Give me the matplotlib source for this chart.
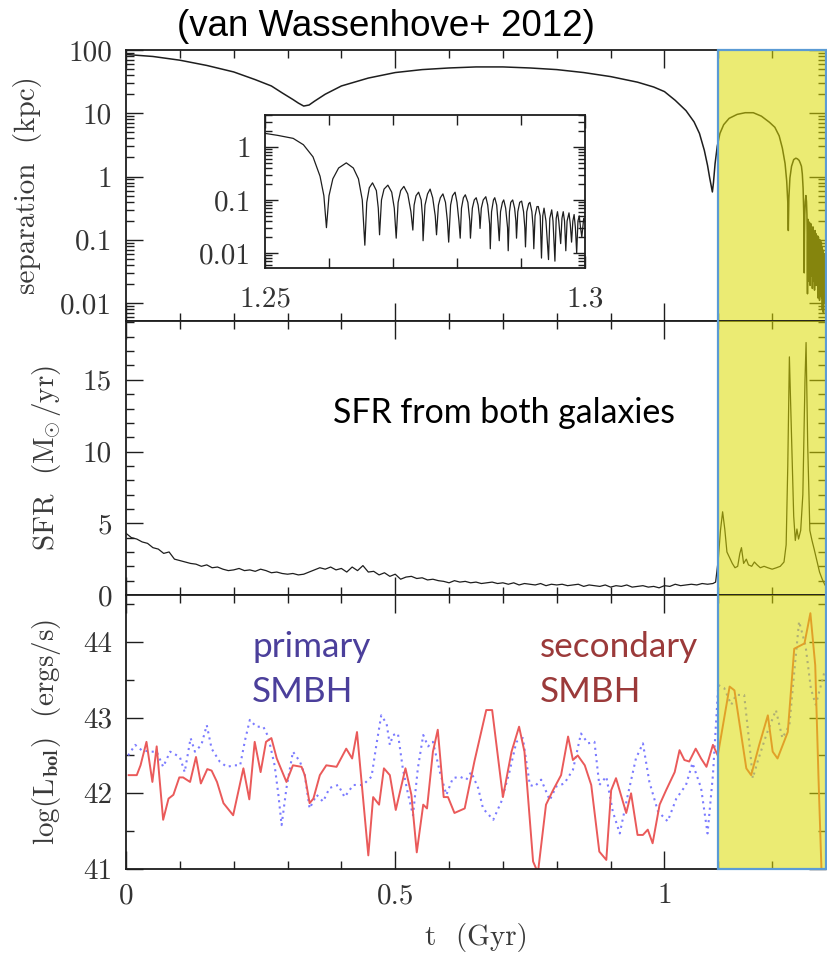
import numpy as np
import matplotlib
matplotlib.use("Agg")
import matplotlib.pyplot as plt
from matplotlib.patches import Rectangle
from matplotlib.transforms import blended_transform_factory
from matplotlib.ticker import LogLocator, MultipleLocator, NullFormatter, FixedLocator

plt.rcParams['mathtext.fontset'] = 'cm'
plt.rcParams['axes.unicode_minus'] = False

# separation of the two nuclei (kpc) vs time (Gyr)
sep_t = [0.00, 0.05, 0.10, 0.15, 0.20, 0.24, 0.27, 0.29, 0.31, 0.32,
         0.33, 0.34, 0.35, 0.37, 0.40, 0.45, 0.50, 0.55, 0.60, 0.65,
         0.70, 0.75, 0.80, 0.85, 0.90, 0.95, 0.98, 1.00, 1.02, 1.04,
         1.055, 1.065, 1.074, 1.080, 1.084, 1.087, 1.089, 1.091, 1.094, 1.098,
         1.103, 1.110, 1.120, 1.135, 1.150, 1.165, 1.180, 1.195, 1.205, 1.213,
         1.219, 1.224, 1.227, 1.229, 1.230, 1.231, 1.233, 1.236, 1.240, 1.244,
         1.247]
sep_kpc = [85, 79, 69, 57, 45, 34, 27, 21, 16.5, 14.5,
           13, 13.5, 15.5, 20, 27, 36, 44, 49, 52, 54,
           54, 52, 49, 44, 38, 31, 26, 22, 16, 11,
           7.3, 4.8, 2.6, 1.5, 0.95, 0.7, 0.57, 0.8, 1.6, 3.0,
           4.8, 6.6, 8.3, 9.6, 10.2, 10.2, 9.0, 7.2, 6.0, 4.4,
           2.8, 1.6, 0.85, 0.4, 0.14, 0.45, 0.95, 1.45, 1.85, 1.95,
           1.9]

# final inspiral, 1.25 - 1.3 Gyr
zoom_t = [1.2500, 1.2520, 1.2544, 1.2560, 1.2575, 1.2586, 1.2592, 1.2596,
          1.2600, 1.2606, 1.2615, 1.2627, 1.2638, 1.2646, 1.2652, 1.2656,
          1.2659, 1.2663, 1.2668, 1.2674, 1.2677, 1.2679,
          1.2682, 1.2686, 1.2692, 1.2698, 1.2702, 1.2705,
          1.2708, 1.2712, 1.2717, 1.2723, 1.2728, 1.2731,
          1.2733, 1.2736, 1.2740, 1.2744, 1.2746, 1.2747,
          1.2750, 1.2754, 1.2758, 1.2762, 1.2766, 1.2768,
          1.2771, 1.2774, 1.2778, 1.2782, 1.2785, 1.2787,
          1.2790, 1.2793, 1.2797, 1.2800, 1.2803, 1.2805,
          1.2807, 1.2810, 1.2813, 1.2817, 1.2820, 1.2821,
          1.2824, 1.2827, 1.2830, 1.2833, 1.2835, 1.2836,
          1.2838, 1.2841, 1.2845, 1.2848, 1.2851, 1.2852,
          1.2854, 1.2857, 1.2859, 1.2862, 1.2864, 1.2866,
          1.2868, 1.2871, 1.2873, 1.2876, 1.2879, 1.2880,
          1.2882, 1.2884, 1.2887, 1.2890, 1.2892, 1.2893,
          1.2895, 1.2898, 1.2901, 1.2904, 1.2906, 1.2907,
          1.2909, 1.2912, 1.2914, 1.2917, 1.2919, 1.2920,
          1.2922, 1.2925, 1.2927, 1.2930, 1.2932,
          1.2934, 1.2936, 1.2939, 1.2943,
          1.2945, 1.2948, 1.2950, 1.2953,
          1.2955, 1.2957, 1.2959, 1.2962,
          1.2964, 1.2966, 1.2968, 1.2970,
          1.2972, 1.2975, 1.2977, 1.2979,
          1.2981, 1.2983, 1.2985, 1.2987,
          1.2989, 1.2991, 1.2993, 1.2995,
          1.2998, 1.3000]
zoom_kpc = [1.8, 1.65, 1.45, 1.1, 0.65, 0.28, 0.12, 0.03,
            0.12, 0.25, 0.40, 0.50, 0.40, 0.25, 0.10, 0.014,
            0.09, 0.17, 0.21, 0.15, 0.07, 0.022,
            0.10, 0.16, 0.19, 0.14, 0.07, 0.019,
            0.09, 0.15, 0.18, 0.13, 0.06, 0.027,
            0.08, 0.12, 0.14, 0.10, 0.05, 0.017,
            0.08, 0.13, 0.16, 0.11, 0.05, 0.022,
            0.08, 0.11, 0.13, 0.09, 0.04, 0.016,
            0.08, 0.12, 0.14, 0.09, 0.04, 0.019,
            0.07, 0.11, 0.125, 0.09, 0.04, 0.019,
            0.07, 0.10, 0.11, 0.08, 0.05, 0.029,
            0.07, 0.10, 0.115, 0.08, 0.035, 0.012,
            0.06, 0.10, 0.11, 0.08, 0.04, 0.017,
            0.06, 0.09, 0.10, 0.07, 0.03, 0.011,
            0.06, 0.09, 0.10, 0.07, 0.04, 0.019,
            0.06, 0.09, 0.095, 0.06, 0.03, 0.013,
            0.06, 0.085, 0.09, 0.06, 0.03, 0.012,
            0.05, 0.075, 0.075, 0.05, 0.008,
            0.05, 0.07, 0.04, 0.0075,
            0.045, 0.065, 0.04, 0.007,
            0.045, 0.06, 0.04, 0.015,
            0.045, 0.06, 0.04, 0.011,
            0.04, 0.057, 0.035, 0.016,
            0.04, 0.053, 0.03, 0.010,
            0.04, 0.05, 0.03, 0.02,
            0.045, 0.04]

# star formation rate of both galaxies (Msun/yr)
sfr_t = list(np.round(np.arange(0.0, 1.095, 0.01), 2)) + [
    1.095, 1.100, 1.104, 1.108, 1.112, 1.116, 1.121, 1.126, 1.131, 1.136,
    1.140, 1.143, 1.147, 1.152, 1.156, 1.162, 1.167, 1.172, 1.178, 1.185,
    1.192, 1.200, 1.208, 1.215, 1.222, 1.226, 1.229, 1.232, 1.236, 1.240,
    1.243, 1.246, 1.249, 1.253, 1.257, 1.261, 1.263, 1.266, 1.270, 1.274,
    1.278, 1.283, 1.288, 1.293, 1.298, 1.300]
sfr = [4.3, 4.0, 3.9, 3.7, 3.6, 3.3, 3.2, 2.9, 3.0, 2.5,
       2.4, 2.3, 2.2, 2.15, 2.0, 2.1, 1.9, 1.95, 1.8, 1.7,
       1.75, 1.85, 1.7, 1.75, 1.65, 1.8, 1.7, 1.55, 1.6, 1.5,
       1.45, 1.5, 1.4, 1.45, 1.6, 1.75, 1.9, 1.8, 1.95, 1.75,
       1.85, 1.6, 1.95, 1.7, 2.05, 1.6, 1.65, 1.4, 1.55, 1.3,
       1.45, 1.1, 1.25, 1.3, 1.15, 1.2, 1.05, 1.1, 1.0, 0.95,
       0.85, 1.0, 0.9, 0.95, 0.85, 0.9, 0.8, 0.85, 0.9, 0.8,
       0.85, 0.75, 0.85, 0.7, 0.8, 0.75, 0.7, 0.8, 0.65, 0.75,
       0.7, 0.75, 0.65, 0.7, 0.75, 0.6, 0.7, 0.65, 0.6, 0.7,
       0.55, 0.65, 0.6, 0.7, 0.55, 0.6, 0.65, 0.55, 0.6, 0.5,
       0.65, 0.6, 0.75, 0.65, 0.7, 0.75, 0.7, 0.8, 0.75, 0.8,
       0.9, 2.5, 4.5, 5.8, 4.6, 3.0, 2.6, 2.2, 1.9, 2.0,
       2.9, 3.3, 2.2, 2.5, 2.1, 2.0, 2.3, 2.1, 1.9, 2.0,
       1.9, 1.8, 1.9, 2.0, 2.3, 3.5, 9.0, 16.6, 11.0, 5.5,
       3.8, 4.6, 3.9, 4.5, 7.0, 15.0, 17.6, 10.5, 4.5, 3.8,
       3.2, 2.4, 1.6, 1.1, 0.7, 0.6]

# bolometric luminosity of the secondary black hole, log(erg/s)
lsec_t = [0.005, 0.020, 0.027, 0.038, 0.049, 0.057, 0.069, 0.079, 0.088, 0.099,
          0.106, 0.119, 0.130, 0.139, 0.151, 0.159, 0.169, 0.181, 0.199, 0.218,
          0.229, 0.239, 0.250, 0.260, 0.270, 0.280, 0.298, 0.310, 0.326, 0.332,
          0.341, 0.348, 0.360, 0.372, 0.391, 0.409, 0.420, 0.429, 0.450, 0.459,
          0.470, 0.479, 0.490, 0.501, 0.519, 0.530, 0.540, 0.552, 0.559, 0.570,
          0.579, 0.590, 0.598, 0.610, 0.629, 0.647, 0.669, 0.680, 0.700, 0.716,
          0.730, 0.740, 0.756, 0.765, 0.780, 0.793, 0.808, 0.821, 0.830, 0.839,
          0.852, 0.864, 0.879, 0.892, 0.901, 0.910, 0.929, 0.938, 0.950, 0.960,
          0.969, 0.978, 0.991, 1.003, 1.019, 1.028, 1.037, 1.046, 1.058, 1.068,
          1.078, 1.090, 1.099, 1.121, 1.130, 1.152, 1.161, 1.176, 1.192, 1.201,
          1.210, 1.229, 1.241, 1.260, 1.271, 1.280, 1.286, 1.292]
lsec = [42.24, 42.24, 42.37, 42.68, 42.15, 42.62, 41.65, 41.93, 41.98, 42.21,
        42.21, 42.15, 42.48, 42.13, 42.32, 42.30, 42.15, 41.87, 41.71, 42.33,
        41.92, 42.68, 42.28, 42.68, 42.73, 42.46, 42.15, 42.37, 42.35, 42.24,
        41.87, 41.93, 42.24, 42.37, 42.35, 42.59, 42.46, 42.81, 41.18, 41.95,
        41.85, 42.33, 42.24, 41.78, 42.33, 41.98, 41.22, 41.85, 41.80, 42.55,
        42.84, 41.95, 41.95, 41.74, 41.80, 42.42, 43.10, 43.10, 41.95, 42.55,
        42.88, 42.55, 41.10, 40.95, 41.85, 42.04, 42.24, 42.75, 42.44, 42.50,
        42.37, 42.11, 41.23, 41.12, 42.04, 42.20, 41.74, 42.00, 41.45, 41.45,
        41.52, 41.34, 41.85, 42.04, 42.28, 42.57, 42.44, 42.42, 42.59, 42.46,
        42.35, 42.64, 42.50, 43.41, 43.36, 42.33, 42.24, 42.64, 43.03, 42.55,
        42.46, 42.81, 43.91, 43.98, 44.38, 43.69, 42.22, 40.90]

# bolometric luminosity of the primary black hole, log(erg/s)
lpri_t = [0.004, 0.017, 0.029, 0.045, 0.057, 0.069, 0.082, 0.100, 0.109, 0.120,
          0.128, 0.140, 0.150, 0.159, 0.174, 0.187, 0.202, 0.212, 0.221, 0.230,
          0.242, 0.255, 0.264, 0.276, 0.283, 0.289, 0.298, 0.310, 0.323, 0.332,
          0.341, 0.354, 0.366, 0.378, 0.394, 0.406, 0.422, 0.440, 0.456, 0.465,
          0.474, 0.484, 0.490, 0.496, 0.505, 0.514, 0.524, 0.533, 0.542, 0.552,
          0.561, 0.570, 0.583, 0.595, 0.607, 0.620, 0.632, 0.641, 0.654, 0.663,
          0.682, 0.697, 0.712, 0.725, 0.737, 0.750, 0.759, 0.771, 0.787, 0.799,
          0.814, 0.830, 0.845, 0.858, 0.870, 0.879, 0.892, 0.904, 0.917, 0.932,
          0.947, 0.960, 0.972, 0.988, 1.006, 1.022, 1.040, 1.052, 1.068, 1.080,
          1.090, 1.100, 1.111, 1.124, 1.133, 1.148, 1.158, 1.164, 1.173, 1.189,
          1.207, 1.219, 1.232, 1.241, 1.250, 1.262, 1.272, 1.281, 1.297]
lpri = [42.50, 42.64, 42.57, 42.55, 42.55, 42.35, 42.55, 42.48, 42.28, 42.73,
        42.55, 42.64, 42.90, 42.59, 42.42, 42.35, 42.37, 42.37, 42.70, 42.97,
        42.88, 42.88, 42.75, 42.37, 41.98, 41.58, 42.07, 42.55, 42.42, 42.24,
        41.80, 41.98, 41.89, 42.07, 42.11, 41.95, 42.11, 42.11, 42.22, 42.64,
        43.03, 42.92, 42.64, 42.77, 42.79, 42.33, 41.98, 41.71, 42.33, 42.77,
        42.62, 42.68, 42.28, 41.98, 42.20, 42.22, 42.18, 42.28, 42.07, 41.80,
        41.65, 41.89, 42.28, 42.68, 42.73, 42.11, 42.09, 42.18, 41.91, 42.09,
        42.13, 42.31, 42.79, 42.66, 42.68, 42.11, 42.22, 41.76, 41.47, 41.98,
        42.46, 42.66, 42.15, 41.76, 41.63, 41.93, 42.11, 42.40, 42.07, 41.47,
        42.24, 43.43, 43.39, 43.17, 43.30, 43.30, 42.64, 42.20, 42.42, 42.77,
        43.10, 42.73, 42.90, 43.60, 44.27, 43.95, 43.38, 43.17, 43.60]

merger_start = 1.1
t_max = 1.3

W, H = 827, 957
fig = plt.figure(figsize=(W / 100, H / 100), dpi=100)

def fx(px):
    return px / W

def fy(py):
    return 1 - py / H

left, right = 126, 826
ax_sep = fig.add_axes([fx(left), fy(321), fx(right - left), (321 - 50) / H])
ax_sfr = fig.add_axes([fx(left), fy(595), fx(right - left), (595 - 321) / H])
ax_lum = fig.add_axes([fx(left), fy(869), fx(right - left), (869 - 595) / H])
ax_in = fig.add_axes([fx(265), fy(268), fx(585 - 265), (268 - 115) / H])

tick_font = dict(family='cmr10', size=21, color='#333333')
ink = '#1e1e1e'

def style(ax, xmaj, xmin):
    for s in ax.spines.values():
        s.set_linewidth(1.3)
        s.set_color(ink)
    ax.tick_params(which='both', direction='in', top=True, right=True,
                   color=ink, width=1.0, labelcolor='#333333')
    ax.tick_params(which='major', length=12)
    ax.tick_params(which='minor', length=5.5)
    ax.tick_params(axis='x', which='major', length=13, pad=10)
    ax.tick_params(axis='y', which='major', pad=10)
    ax.xaxis.set_major_locator(MultipleLocator(xmaj))
    ax.xaxis.set_minor_locator(MultipleLocator(xmin))

def log_axis(ax):
    ax.set_yscale('log')
    ax.yaxis.set_minor_locator(LogLocator(base=10, subs=np.arange(2, 10)))
    ax.yaxis.set_minor_formatter(NullFormatter())

# separation panel
ax_sep.plot(sep_t + zoom_t, sep_kpc + zoom_kpc, color=ink, lw=1.1)
log_axis(ax_sep)
ax_sep.set_xlim(0, t_max)
ax_sep.set_ylim(0.0052, 100)
style(ax_sep, 0.5, 0.1)
ax_sep.set_yticks([0.01, 0.1, 1, 10, 100])
ax_sep.set_yticklabels(['0.01', '0.1', '1', '10', '100'], fontdict=tick_font)
ax_sep.tick_params(axis='x', labelbottom=False)

# inset on the last 50 Myr
ax_in.plot(zoom_t, zoom_kpc, color=ink, lw=0.9)
log_axis(ax_in)
ax_in.set_xlim(1.25, 1.3)
ax_in.set_ylim(0.0052, 4)
style(ax_in, 0.05, 0.01)
ax_in.tick_params(which='major', length=9)
ax_in.tick_params(which='minor', length=5)
ax_in.tick_params(axis='x', which='minor', length=7)
ax_in.tick_params(axis='x', which='major', pad=13)
ax_in.set_xticks([1.25, 1.3])
ax_in.set_xticklabels(['1.25', '1.3'], fontdict=tick_font)
ax_in.xaxis.set_minor_locator(FixedLocator([1.26, 1.27, 1.28, 1.29]))
ax_in.set_yticks([0.01, 0.1, 1])
ax_in.set_yticklabels(['0.01', '0.1', '1'], fontdict=tick_font)

# star formation panel
ax_sfr.plot(sfr_t, sfr, color=ink, lw=0.9)
ax_sfr.set_xlim(0, t_max)
ax_sfr.set_ylim(0, 19.1)
style(ax_sfr, 0.5, 0.1)
ax_sfr.yaxis.set_minor_locator(MultipleLocator(1))
ax_sfr.set_yticks([0, 5, 10, 15])
ax_sfr.set_yticklabels(['0', '5', '10', '15'], fontdict=tick_font)
ax_sfr.tick_params(axis='x', labelbottom=False)

# luminosity panel
ax_lum.plot(lpri_t, lpri, color='#7b7bff', lw=1.5, ls=(0, (1, 2)))
ax_lum.plot(lsec_t, lsec, color='#ea5a5a', lw=1.4)
ax_lum.set_xlim(0, t_max)
ax_lum.set_ylim(41, 44.62)
style(ax_lum, 0.5, 0.1)
ax_lum.yaxis.set_minor_locator(MultipleLocator(0.5))
ax_lum.set_yticks([41, 42, 43, 44])
ax_lum.set_yticklabels(['41', '42', '43', '44'], fontdict=tick_font)
ax_lum.set_xticks([0, 0.5, 1])
ax_lum.set_xticklabels(['0', '0.5', '1'], fontdict=tick_font)

# merger phase highlight
for ax in (ax_sep, ax_sfr, ax_lum):
    ax.axvspan(merger_start, t_max, color=(0.86, 0.86, 0.0), alpha=0.55,
               lw=0, zorder=3)
box_tr = blended_transform_factory(ax_lum.transData, fig.transFigure)
fig.add_artist(Rectangle((merger_start, fy(869)), t_max - merger_start,
                         (869 - 50) / H, transform=box_tr, fill=False,
                         edgecolor='#5b9bd5', lw=1.6, zorder=10))

# axis labels
lab_font = dict(family='cmr10', size=21, color='#3a3a3a')
fig.text(fx(28), fy(185), 'separation  (kpc)', rotation=90,
         ha='center', va='center', **lab_font)
fig.text(fx(47), fy(458), r'SFR  ($\mathrm{M}_{\!\!\odot}$/yr)', rotation=90,
         ha='center', va='center', **lab_font)
fig.text(fx(47), fy(732), r'log($\mathrm{L}_{\mathbf{bol}}$)  (ergs/s)',
         rotation=90, ha='center', va='center', **lab_font)
fig.text(fx(476), fy(937), 't  (Gyr)', ha='center', va='center', **lab_font)

# annotations
fig.text(fx(386), fy(27), '(van Wassenhove+ 2012)', ha='center', va='center',
         family='Liberation Sans', size=26.5, color='black')
fig.text(fx(333), fy(423), 'SFR from both galaxies', ha='left',
         va='baseline', color='black', family='Lato', size=24.4)
pair_font = dict(family='Lato', size=25.3)
fig.text(fx(252), fy(657), 'primary', ha='left', va='baseline',
         color='#4b3f9b', **pair_font)
fig.text(fx(252), fy(702), 'SMBH', ha='left', va='baseline',
         color='#4b3f9b', **pair_font)
fig.text(fx(540), fy(657), 'secondary', ha='left', va='baseline',
         color='#9b3a3a', **pair_font)
fig.text(fx(540), fy(702), 'SMBH', ha='left', va='baseline',
         color='#9b3a3a', **pair_font)

fig.savefig('out.png', dpi=100)
